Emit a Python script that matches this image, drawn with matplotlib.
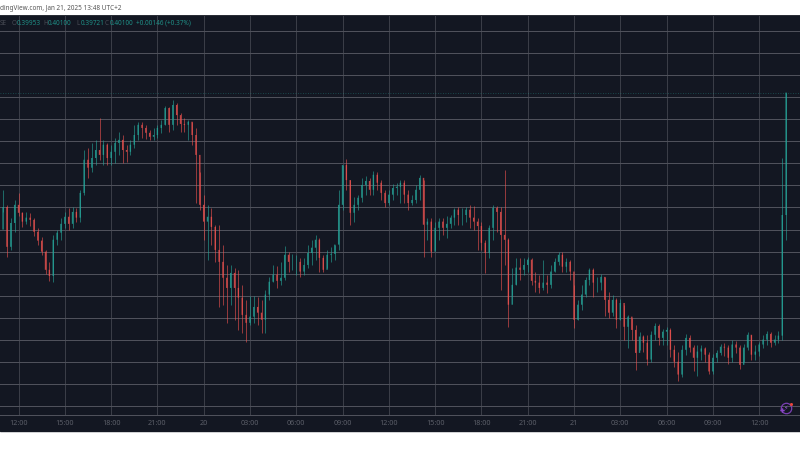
#!/usr/bin/env python3

import numpy as np
import matplotlib
matplotlib.use("Agg")
import matplotlib.pyplot as plt
from matplotlib.patches import Rectangle

plt.rcParams['font.family'] = ['Noto Sans', 'DejaVu Sans']

# 15 minute candles, prices in 1/10000
closes = [3751,3661,3715,3756,3738,3718,3727,3722,3695,3675,3650,3609,3595,3677,3693,3713,3729,3713,3740,3727,
          3783,3858,3840,3862,3880,3869,3892,3862,3876,3896,3903,3880,3876,3892,3914,3937,3930,3919,3910,3914,
          3930,3937,3975,3937,3982,3959,3939,3937,3944,3914,3869,3756,3718,3729,3706,3654,3627,3591,3568,3602,
          3568,3546,3507,3489,3503,3525,3512,3496,3553,3582,3598,3584,3591,3643,3627,3627,3627,3605,3620,3647,
          3659,3677,3636,3609,3643,3645,3666,3756,3846,3812,3738,3756,3772,3801,3810,3790,3824,3806,3783,3760,
          3779,3794,3797,3806,3779,3760,3767,3790,3817,3711,3718,3650,3704,3718,3704,3713,3727,3745,3733,3733,
          3745,3727,3718,3708,3670,3647,3704,3749,3740,3688,3677,3530,3575,3614,3609,3620,3632,3584,3580,3568,
          3580,3575,3605,3627,3643,3616,3627,3605,3496,3530,3553,3586,3609,3580,3580,3593,3541,3512,3541,3496,
          3534,3480,3503,3473,3421,3458,3444,3406,3462,3482,3455,3469,3473,3428,3401,3372,3428,3455,3433,3410,
          3424,3431,3417,3379,3410,3421,3435,3433,3410,3440,3433,3394,3433,3462,3417,3424,3440,3451,3464,3444,
          3451,3460,3733,4010]
highs = [3790,3756,3727,3767,3783,3740,3740,3738,3727,3704,3684,3654,3627,3688,3699,3727,3740,3749,3751,3749,
         3790,3880,3885,3896,3903,3953,3903,3896,3892,3907,3921,3914,3892,3903,3937,3944,3944,3937,3925,3930,
         3937,3948,3980,3977,3993,3986,3964,3953,3948,3944,3930,3830,3779,3756,3749,3711,3711,3666,3620,3620,
         3614,3609,3575,3541,3550,3550,3548,3541,3564,3593,3620,3618,3627,3663,3650,3645,3643,3636,3636,3666,
         3677,3688,3681,3643,3654,3661,3666,3790,3846,3860,3812,3774,3779,3817,3821,3817,3833,3830,3812,3790,
         3790,3803,3806,3812,3812,3790,3779,3801,3824,3812,3727,3727,3718,3727,3727,3731,3733,3749,3751,3749,
         3751,3756,3754,3727,3718,3677,3711,3756,3754,3751,3835,3681,3614,3636,3636,3636,3638,3636,3605,3598,
         3632,3598,3620,3636,3650,3650,3636,3632,3575,3541,3575,3593,3614,3614,3593,3600,3593,3559,3553,3546,
         3543,3530,3507,3501,3485,3469,3462,3462,3471,3489,3487,3476,3480,3478,3440,3424,3440,3464,3462,3440,
         3440,3440,3435,3424,3419,3428,3442,3444,3440,3451,3449,3440,3442,3469,3462,3440,3446,3462,3471,3469,
         3462,3471,3862,4010]
lows = [3740,3638,3654,3695,3731,3706,3713,3708,3686,3666,3643,3600,3584,3582,3666,3677,3704,3699,3704,3718,
        3718,3779,3817,3830,3846,3858,3846,3846,3846,3851,3869,3851,3853,3869,3885,3903,3907,3905,3903,3903,
        3907,3919,3937,3921,3925,3937,3921,3921,3903,3892,3760,3745,3677,3632,3666,3627,3525,3530,3489,3530,
        3496,3473,3467,3446,3485,3489,3485,3467,3467,3541,3582,3568,3575,3586,3605,3609,3598,3593,3598,3614,
        3620,3632,3605,3605,3614,3627,3632,3654,3745,3790,3711,3718,3745,3763,3779,3779,3779,3790,3767,3751,
        3756,3767,3779,3760,3760,3745,3756,3760,3767,3638,3677,3638,3654,3677,3688,3681,3704,3711,3711,3711,
        3718,3704,3699,3654,3654,3602,3636,3677,3695,3564,3620,3480,3553,3575,3586,3598,3605,3575,3559,3557,
        3564,3557,3568,3605,3620,3605,3605,3586,3478,3496,3519,3548,3575,3548,3559,3564,3505,3501,3505,3478,
        3496,3451,3433,3451,3383,3428,3424,3394,3401,3451,3440,3440,3440,3412,3390,3358,3367,3417,3424,3379,
        3369,3406,3401,3374,3374,3401,3417,3415,3397,3401,3421,3385,3401,3428,3406,3406,3415,3433,3440,3435,
        3440,3444,3451,3677]
first_open = 3700

tick_pos = [5, 17, 29, 41, 53, 65, 77, 89, 101, 113, 125, 137, 149, 161, 173, 185, 197]
tick_labels = ["12:00", "15:00", "18:00", "21:00", "20", "03:00", "06:00", "09:00", "12:00",
               "15:00", "18:00", "21:00", "21", "03:00", "06:00", "09:00", "12:00"]
grid_prices = np.arange(0.330, 0.4151, 0.005)
last_price = 0.4010

UP = "#26a69a"
DOWN = "#ef5350"
BG = "#131722"

closes = np.array(closes) / 10000
highs = np.array(highs) / 10000
lows = np.array(lows) / 10000
opens = np.r_[first_open / 10000, closes[:-1]]
xs = np.arange(1, len(closes) + 1)
colors = [UP if c >= o else DOWN for o, c in zip(opens, closes)]

fig = plt.figure(figsize=(8, 4.5), dpi=100, facecolor="white")
fig.patches.append(Rectangle((0, 19 / 450), 1, 35 / 450, transform=fig.transFigure, color=BG, zorder=-1))
ax = fig.add_axes([0, 35 / 450, 1, 400 / 450], facecolor=BG)
ax.set_xlim(0.2, 207.6)
ax.set_ylim(0.32805, 0.41855)

ax.set_yticks(grid_prices)
ax.set_xticks(tick_pos)
ax.set_xticklabels(tick_labels)
ax.tick_params(axis="y", length=0, labelleft=False)
ax.tick_params(axis="x", length=0, labelsize=5.2, labelcolor="#5b5e68", pad=3.5)
ax.grid(axis="y", color="#4f515b", lw=0.72)
ax.grid(axis="x", color="#3a3d47", lw=0.72)
ax.set_axisbelow(True)
for side in ["left", "right"]:
    ax.spines[side].set_visible(False)
ax.spines["top"].set_color("#2a2d36")
ax.spines["bottom"].set_color("#4f515b")
ax.spines["top"].set_linewidth(0.72)
ax.spines["bottom"].set_linewidth(0.72)

ax.axhline(last_price, color=UP, lw=0.6, ls=(0, (1, 2)), alpha=0.45)
ax.vlines(xs, lows, highs, colors=colors, lw=0.7, alpha=0.6)
bars = ax.bar(xs, np.abs(closes - opens), bottom=np.minimum(opens, closes), width=0.36, color=colors, alpha=0.8, linewidth=0)
for b in bars:
    b.set_snap(False)

fig.text(0, 1 - 10 / 450, "dingView.com, Jan 21, 2025 13:48 UTC+2", fontsize=4.6, color="#555555", va="baseline")

# legend row
leg_y = 1 - 25 / 450
fig.text(0, leg_y, "SE", fontsize=4.6, color="#4a4d57", va="baseline")
for x, head, val in [(12, "O", "0.39953"), (43, "H", "0.40100"), (76, "L", "0.39721"), (105, "C", "0.40100")]:
    fig.text(x / 800, leg_y, head, fontsize=4.6, color="#4a4d57", va="baseline")
    fig.text((x + 4.5) / 800, leg_y, val, fontsize=4.6, color="#1f8f86", va="baseline")
fig.text(136 / 800, leg_y, "+0.00146 (+0.37%)", fontsize=4.6, color="#1f8f86", va="baseline")

# small purple badge, lower right
ax.plot([0.9825], [0.0175], transform=ax.transAxes, marker="o", ms=7.5, mfc="none", mec="#7b3fb5", mew=0.9, clip_on=False)
ax.plot([0.9775], [0.0125], transform=ax.transAxes, marker="P", ms=3.2, color="#8a45c8", mew=0)
ax.plot([0.9885], [0.0285], transform=ax.transAxes, marker="o", ms=2.2, color="#e8453c", mew=0)
ax.text(0.9825, 0.0175, "\u26a1", transform=ax.transAxes, fontsize=4.5, color="#9a55d8", ha="center", va="center", family="DejaVu Sans")

plt.savefig("out.png", dpi=100)
plt.close()
